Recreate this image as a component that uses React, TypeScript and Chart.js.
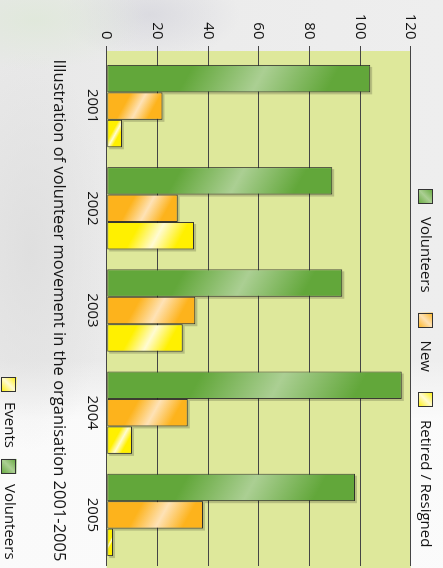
import { useEffect, useRef } from 'react';
import { Chart, registerables } from 'chart.js';

Chart.register(...registerables);

// ---- data ----
const categories = ['2001', '2002', '2003', '2004', '2005'];
const volunteers = [104, 89, 93, 116.5, 98];
const newVolunteers = [22, 28, 35, 32, 38];
const retired = [6, 34.5, 30, 10, 2.5];
const seriesLabels = ['Volunteers', 'New', 'Retired / Resigned'];
const extraLegendLabels = ['Events', 'Volunteers'];
const valueMin = 0;
const valueMax = 120;
const valueStep = 20;
const titleText = 'Illustration of volunteer movement in the organisation 2001-2005';

// ---- style ----
const W = 568;
const H = 443;
const FONT = "'Open Sans', 'Noto Sans', sans-serif";
const CAT_PCT = 0.806;
const GREEN = { base: '#62a73a', light: '#abcf93' };
const ORANGE = { base: '#fdb31c', light: '#fee2b6' };
const YELLOW = { base: '#fff000', light: '#fffbd2' };
const seriesColors = [GREEN, ORANGE, YELLOW];
const extraLegendColors = [YELLOW, GREEN];
const PLOT_FILL = '#dee89b';
const TEXT = '#151515';

function gradientFor(ctx: CanvasRenderingContext2D, colors: { base: string; light: string }, x0: number, y0: number, x1: number, y1: number) {
  const g = ctx.createLinearGradient(x0, y0, x1, y1);
  g.addColorStop(0, colors.base);
  g.addColorStop(0.3, colors.base);
  g.addColorStop(0.58, colors.light);
  g.addColorStop(0.86, colors.base);
  g.addColorStop(1, colors.base);
  return g;
}

function barBackground(dsIndex: number) {
  const colors = seriesColors[dsIndex];
  return (c: any) => {
    const chart = c.chart;
    const xs = chart.scales?.x;
    const ys = chart.scales?.y;
    if (!xs || !ys || c.raw === undefined || !xs.width) return colors.base;
    const band = xs.width / categories.length;
    const barW = (band * CAT_PCT) / 3;
    const uc = xs.getPixelForValue(c.dataIndex) + (dsIndex - 1) * barW;
    const base = ys.getPixelForValue(0);
    const top = ys.getPixelForValue(c.raw);
    const L = Math.max(base - top, 1);
    const k = (27 * L) / (15 * 15 + 27 * 27);
    return gradientFor(chart.ctx, colors, uc, base, uc + 15 * k, base - 27 * k);
  };
}

const plotFillPlugin = {
  id: 'plotFill',
  beforeDraw(chart: any) {
    const { ctx, chartArea } = chart;
    ctx.save();
    ctx.fillStyle = PLOT_FILL;
    ctx.fillRect(chartArea.left - 4, chartArea.top, W - (chartArea.left - 4), chartArea.bottom - chartArea.top);
    ctx.restore();
  },
};

const shadowPlugin = {
  id: 'barShadow',
  beforeDatasetsDraw(chart: any) {
    const { ctx } = chart;
    ctx.save();
    ctx.fillStyle = 'rgba(0,0,0,0.18)';
    chart.data.datasets.forEach((_: any, i: number) => {
      const meta = chart.getDatasetMeta(i);
      meta.data.forEach((el: any) => {
        const { x, y, base, width } = el.getProps(['x', 'y', 'base', 'width'], true);
        ctx.fillRect(x - width / 2 + 2, y - 2, width, base - y);
      });
    });
    ctx.restore();
  },
};

function drawLegendRow(ctx: CanvasRenderingContext2D, labels: string[], colors: { base: string; light: string }[], startX: number, cy: number, gap: number, itemGap: number) {
  const box = 15;
  let x = startX;
  ctx.save();
  ctx.font = `15px ${FONT}`;
  ctx.textBaseline = 'middle';
  ctx.textAlign = 'left';
  labels.forEach((label, i) => {
    const g = ctx.createLinearGradient(x, cy - box / 2, x + box, cy + box / 2);
    g.addColorStop(0, colors[i].base);
    g.addColorStop(0.5, colors[i].light);
    g.addColorStop(1, colors[i].base);
    ctx.fillStyle = g;
    ctx.fillRect(x, cy - box / 2, box, box);
    ctx.strokeStyle = '#333';
    ctx.lineWidth = 1;
    ctx.strokeRect(Math.round(x) + 0.5, Math.round(cy - box / 2) + 0.5, box - 1, box - 1);
    x += box + gap;
    ctx.fillStyle = TEXT;
    ctx.fillText(label, x, cy);
    x += ctx.measureText(label).width + itemGap;
  });
  ctx.restore();
}

const legendPlugin = {
  id: 'customLegends',
  afterDraw(chart: any) {
    const { ctx } = chart;
    drawLegendRow(ctx, chart.data.datasets.map((d: any) => d.label), seriesColors, 189, 17.5, 13, 20);
    drawLegendRow(ctx, extraLegendLabels, extraLegendColors, 377, 434, 10, 11);
  },
};

export default function App() {
  const ref = useRef<HTMLCanvasElement>(null);

  useEffect(() => {
    const canvas = ref.current;
    if (!canvas) return;
    const data = [volunteers, newVolunteers, retired];
    const chart = new Chart(canvas, {
      type: 'bar',
      data: {
        labels: categories,
        datasets: data.map((values, i) => ({
          label: seriesLabels[i],
          data: values,
          backgroundColor: barBackground(i),
          borderColor: 'rgba(35,35,35,0.9)',
          borderWidth: 1,
          borderSkipped: false,
          categoryPercentage: CAT_PCT,
          barPercentage: 1.0,
        })),
      },
      options: {
        responsive: false,
        animation: false,
        devicePixelRatio: 1,
        layout: { padding: { top: 32.3, left: 0, right: 2, bottom: 48.6 } },
        font: { family: FONT },
        plugins: {
          legend: { display: false },
          tooltip: { enabled: false },
          title: {
            display: true,
            text: titleText,
            position: 'bottom',
            fullSize: false,
            padding: { top: 8.3, bottom: 0 },
            color: TEXT,
            font: { family: FONT, size: 16.5, weight: 'normal' },
          },
        },
        scales: {
          x: {
            type: 'category',
            offset: true,
            grid: { display: false, drawTicks: false },
            border: { display: false },
            ticks: { padding: 5, color: TEXT, font: { family: FONT, size: 15 }, maxRotation: 0, autoSkip: false },
            afterFit: (s: any) => {
              s.height = 30;
            },
          },
          y: {
            min: valueMin,
            max: valueMax,
            ticks: { stepSize: valueStep, padding: 6.5, color: TEXT, font: { family: FONT, size: 15 } },
            grid: { color: '#454545', lineWidth: 1, tickLength: 9, drawTicks: true },
            border: { display: false },
            afterFit: (s: any) => {
              s.width = 55;
            },
          },
        },
      } as any,
      plugins: [plotFillPlugin, shadowPlugin, legendPlugin],
    });
    return () => chart.destroy();
  }, []);

  const bg = [
    'radial-gradient(ellipse 110px 50px at 35px 20px, rgba(222,232,216,0.8), rgba(222,232,216,0) 100%)',
    'radial-gradient(ellipse 90px 45px at 150px 15px, rgba(212,212,220,0.7), rgba(212,212,220,0) 100%)',
    'radial-gradient(ellipse 80px 200px at 30px 250px, rgba(222,222,222,0.9), rgba(222,222,222,0) 100%)',
    'linear-gradient(to bottom, rgba(255,255,255,0) 0px, rgba(255,255,255,0) 360px, rgba(252,252,252,0.9) 420px)',
    'linear-gradient(to right, #e8e8e8, #ececec 50%, #eeeeee)',
  ].join(', ');

  return (
    <div style={{ position: 'fixed', left: 0, top: 0, width: 443, height: 568, overflow: 'hidden', background: bg }}>
      <div
        style={{
          position: 'absolute',
          left: 0,
          top: 0,
          width: W,
          height: H,
          transformOrigin: '0 0',
          transform: 'translateX(443px) rotate(90deg)',
        }}
      >
        <canvas ref={ref} width={W} height={H} style={{ display: 'block', width: W, height: H }} />
      </div>
    </div>
  );
}
